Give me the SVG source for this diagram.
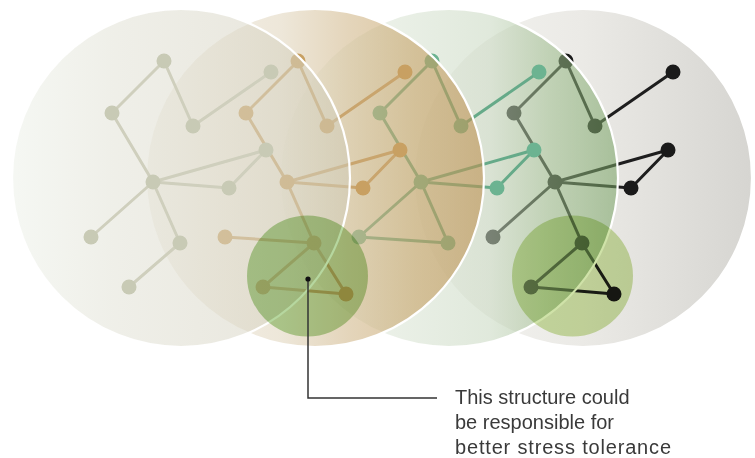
<svg xmlns="http://www.w3.org/2000/svg" width="755" height="458" viewBox="0 0 755 458">
  <defs>
    <linearGradient id="g1" x1="0" y1="0" x2="1" y2="0">
      <stop offset="0" stop-color="#edf1e9"/>
      <stop offset="0.3" stop-color="#e2e2d6"/>
      <stop offset="0.7" stop-color="#d9d6c6"/>
      <stop offset="1" stop-color="#cfcbb7"/>
    </linearGradient>
    <linearGradient id="g2" x1="0" y1="0" x2="1" y2="0">
      <stop offset="0" stop-color="#efebe1"/>
      <stop offset="0.4" stop-color="#e2d7c0"/>
      <stop offset="0.6" stop-color="#d2b98d"/>
      <stop offset="0.8" stop-color="#c6a266"/>
      <stop offset="1" stop-color="#bd9050"/>
    </linearGradient>
    <linearGradient id="g3" x1="0" y1="0" x2="1" y2="0">
      <stop offset="0" stop-color="#eef2ea"/>
      <stop offset="0.62" stop-color="#c7d7bf"/>
      <stop offset="0.8" stop-color="#9bbb8a"/>
      <stop offset="1" stop-color="#74a060"/>
    </linearGradient>
    <linearGradient id="g4" x1="0" y1="0" x2="1" y2="0">
      <stop offset="0" stop-color="#f5f5f2"/>
      <stop offset="0.5" stop-color="#ebeae6"/>
      <stop offset="1" stop-color="#d6d5d1"/>
    </linearGradient>
    <style>
      .disc { stroke: #ffffff; stroke-width: 2.2; }
      .hl { mix-blend-mode: multiply; }
      .e { fill: none; stroke-width: 3; stroke-linecap: round; }
      .e1 { stroke: #cfcfbd; }
      .e2 { stroke: #c9a56e; }
      .e3 { stroke: #66aa89; }
      .e4 { stroke: #1e1e1e; }
      .v1 circle { fill: #c8cab5; }
      .v2 circle { fill: #c8a062; }
      .v3 circle { fill: #6cb391; }
      .v4 circle { fill: #1a1a1a; }
      .label { font-family: "Liberation Sans", Arial, sans-serif; font-size: 20px; fill: #3a3a3a; }
    </style>
  </defs>

  <!-- Layer 4 (bottom) -->
  <g id="layer4">
    <circle class="disc" cx="583" cy="178" r="169" fill="url(#g4)"/>
    <g id="connectors4">
      <path class="e e4" d="M566 61L514 113M566 61L595 126M595 126L673 72M514 113L555 182M555 182L668 150M555 182L631 188M668 150L631 188M555 182L493 237M555 182L582 243M582 243L531 287M582 243L614 294M531 287L614 294"/>
    </g>
    <g class="v4">
      <g id="n4-a"><circle cx="566" cy="61" r="7.5"/></g>
      <g id="n4-b"><circle cx="514" cy="113" r="7.5"/></g>
      <g id="n4-c"><circle cx="595" cy="126" r="7.5"/></g>
      <g id="n4-d"><circle cx="673" cy="72" r="7.5"/></g>
      <g id="n4-e"><circle cx="668" cy="150" r="7.5"/></g>
      <g id="n4-f"><circle cx="555" cy="182" r="7.5"/></g>
      <g id="n4-g"><circle cx="631" cy="188" r="7.5"/></g>
      <g id="n4-h"><circle cx="493" cy="237" r="7.5"/></g>
      <g id="n4-i"><circle cx="582" cy="243" r="7.5"/></g>
      <g id="n4-j"><circle cx="531" cy="287" r="7.5"/></g>
      <g id="n4-k"><circle cx="614" cy="294" r="7.5"/></g>
    </g>
  </g>

  <!-- Layer 3 -->
  <g id="layer3">
    <circle class="disc" cx="449" cy="178" r="169" fill="url(#g3)" fill-opacity="0.55"/>
    <g id="connectors3">
      <path class="e e3" d="M432 61L380 113M432 61L461 126M461 126L539 72M380 113L421 182M421 182L534 150M421 182L497 188M534 150L497 188M421 182L359 237M359 237L448 243M421 182L448 243"/>
    </g>
    <g class="v3">
      <g id="n3-a"><circle cx="432" cy="61" r="7.5"/></g>
      <g id="n3-b"><circle cx="380" cy="113" r="7.5"/></g>
      <g id="n3-c"><circle cx="461" cy="126" r="7.5"/></g>
      <g id="n3-d"><circle cx="539" cy="72" r="7.5"/></g>
      <g id="n3-e"><circle cx="534" cy="150" r="7.5"/></g>
      <g id="n3-f"><circle cx="421" cy="182" r="7.5"/></g>
      <g id="n3-g"><circle cx="497" cy="188" r="7.5"/></g>
      <g id="n3-h"><circle cx="359" cy="237" r="7.5"/></g>
      <g id="n3-i"><circle cx="448" cy="243" r="7.5"/></g>
    </g>
  </g>

  <!-- Layer 2 -->
  <g id="layer2">
    <circle class="disc" cx="315" cy="178" r="169" fill="url(#g2)" fill-opacity="0.6"/>
    <g id="connectors2">
      <path class="e e2" d="M298 61L246 113M298 61L327 126M327 126L405 72M246 113L287 182M287 182L400 150M287 182L363 188M400 150L363 188M225 237L314 243M287 182L314 243M314 243L263 287M314 243L346 294M263 287L346 294"/>
    </g>
    <g class="v2">
      <g id="n2-a"><circle cx="298" cy="61" r="7.5"/></g>
      <g id="n2-b"><circle cx="246" cy="113" r="7.5"/></g>
      <g id="n2-c"><circle cx="327" cy="126" r="7.5"/></g>
      <g id="n2-d"><circle cx="405" cy="72" r="7.5"/></g>
      <g id="n2-e"><circle cx="400" cy="150" r="7.5"/></g>
      <g id="n2-f"><circle cx="287" cy="182" r="7.5"/></g>
      <g id="n2-g"><circle cx="363" cy="188" r="7.5"/></g>
      <g id="n2-h"><circle cx="225" cy="237" r="7.5"/></g>
      <g id="n2-i"><circle cx="314" cy="243" r="7.5"/></g>
      <g id="n2-j"><circle cx="263" cy="287" r="7.5"/></g>
      <g id="n2-k"><circle cx="346" cy="294" r="7.5"/></g>
    </g>
  </g>

  <!-- Layer 1 (top) -->
  <g id="layer1">
    <circle class="disc" cx="181" cy="178" r="169" fill="url(#g1)" fill-opacity="0.55"/>
    <g id="connectors1">
      <path class="e e1" d="M164 61L112 113M164 61L193 126M193 126L271 72M112 113L153 182M153 182L266 150M153 182L229 188M266 150L229 188M153 182L91 237M153 182L180 243M180 243L129 287"/>
    </g>
    <g class="v1">
      <g id="n1-a"><circle cx="164" cy="61" r="7.5"/></g>
      <g id="n1-b"><circle cx="112" cy="113" r="7.5"/></g>
      <g id="n1-c"><circle cx="193" cy="126" r="7.5"/></g>
      <g id="n1-d"><circle cx="271" cy="72" r="7.5"/></g>
      <g id="n1-e"><circle cx="266" cy="150" r="7.5"/></g>
      <g id="n1-f"><circle cx="153" cy="182" r="7.5"/></g>
      <g id="n1-g"><circle cx="229" cy="188" r="7.5"/></g>
      <g id="n1-h"><circle cx="91" cy="237" r="7.5"/></g>
      <g id="n1-i"><circle cx="180" cy="243" r="7.5"/></g>
      <g id="n1-j"><circle cx="129" cy="287" r="7.5"/></g>
    </g>
  </g>

  <!-- Highlight discs -->
  <g id="highlight-a"><circle class="hl" cx="307.5" cy="276" r="60.5" fill="#b6d79f"/></g>
  <g id="highlight-b"><circle class="hl" cx="572.5" cy="276" r="60.5" fill="#cfe2a8"/></g>

  <!-- Callout -->
  <g id="callout">
    <path d="M308 279V398H437" fill="none" stroke="#333333" stroke-width="1.5"/>
    <circle cx="308" cy="279" r="2.6" fill="#111111"/>
    <text class="label" x="455" y="404">This structure could</text>
    <text class="label" x="455" y="429">be responsible for</text>
    <text class="label" x="455" y="454" textLength="216" lengthAdjust="spacing">better stress tolerance</text>
  </g>
</svg>
